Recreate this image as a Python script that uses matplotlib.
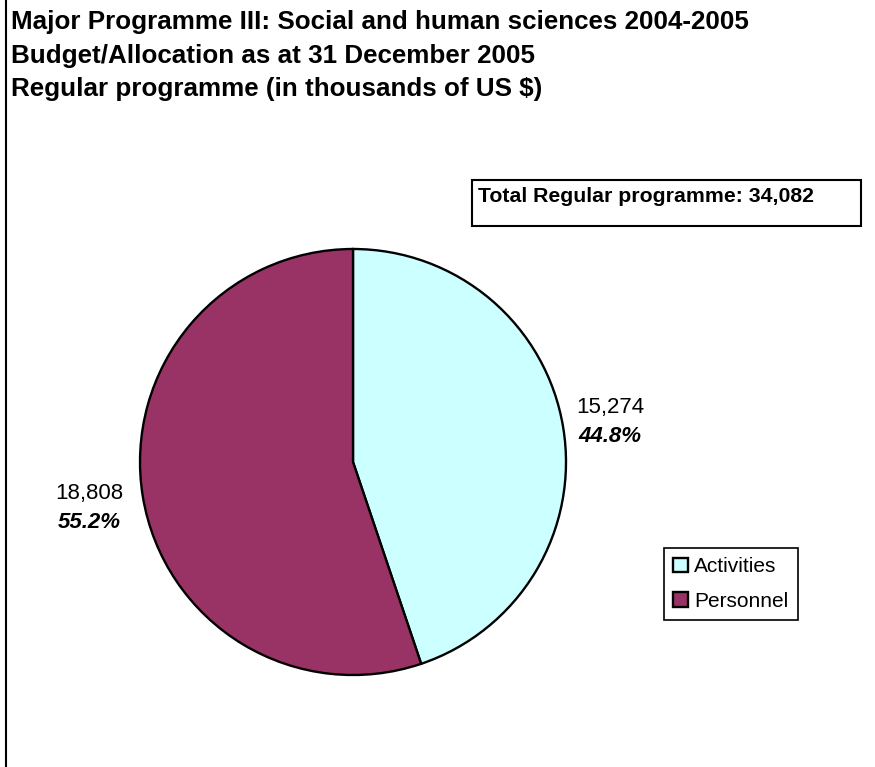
import numpy as np
import matplotlib
matplotlib.use("Agg")
import matplotlib.pyplot as plt
from matplotlib.patches import Rectangle
from matplotlib.lines import Line2D

plt.rcParams['font.family'] = ['Liberation Sans', 'DejaVu Sans']

# data
categories = ['Activities', 'Personnel']
values = [15274, 18808]
shares = [44.8, 55.2]
colors = ['#CCFFFF', '#993366']
title_lines = ['Major Programme III: Social and human sciences 2004-2005',
               'Budget/Allocation as at 31 December 2005',
               'Regular programme (in thousands of US $)']
total_label = 'Total Regular programme: 34,082'

W, H = 875, 767
fig = plt.figure(figsize=(W / 100, H / 100), dpi=100)
fig.patch.set_facecolor('white')

def fx(px):
    return px / W

def fy(py):
    return 1 - py / H

# left border of the chart area
fig.add_artist(Line2D([fx(6), fx(6)], [0, 1], transform=fig.transFigure,
                      color='black', lw=1.5))

# title, three lines
for i, line in enumerate(title_lines):
    fig.text(fx(11), fy(29 + 33.5 * i), line, fontsize=18.7, weight='bold',
             ha='left', va='baseline')

# total box
fig.add_artist(Rectangle((fx(472), fy(226)), fx(861) - fx(472), fy(180) - fy(226),
                         transform=fig.transFigure, facecolor='white',
                         edgecolor='black', lw=1.5))
fig.text(fx(478), fy(202), total_label, fontsize=15.3, weight='bold',
         ha='left', va='baseline')

# pie
cx, cy, r = 353, 462, 213
ax = fig.add_axes([fx(cx - r), fy(cy + r), 2 * r / W, 2 * r / H])
wedges, _ = ax.pie(values, colors=colors, startangle=90, counterclock=False,
                   radius=1, wedgeprops=dict(edgecolor='black', linewidth=1.7))
ax.set_xlim(-1, 1)
ax.set_ylim(-1, 1)
ax.set_aspect('equal')

# data labels: value on top, bold italic share below
label_dist = [1.224, 1.255]
for w, v, s, d in zip(wedges, values, shares, label_dist):
    ang = np.deg2rad((w.theta1 + w.theta2) / 2)
    x, y = d * np.cos(ang), d * np.sin(ang)
    ax.annotate(f'{v:,}', (x, y), xytext=(0, 6.5), textcoords='offset pixels',
                ha='center', va='baseline', fontsize=16, annotation_clip=False)
    ax.annotate(f'{s:.1f}%', (x, y), xytext=(0, -22.5), textcoords='offset pixels',
                ha='center', va='baseline', fontsize=16, weight='bold',
                style='italic', annotation_clip=False)

leg = fig.legend(wedges, categories, loc='upper left',
                 bbox_to_anchor=(fx(664), fy(548)), fontsize=15,
                 frameon=True, fancybox=False, framealpha=1, edgecolor='black',
                 handlelength=0.7, handleheight=0.7, handletextpad=0.3,
                 borderpad=0.45, labelspacing=0.75, borderaxespad=0)
leg.get_frame().set_linewidth(1.2)

fig.savefig('out.png', dpi=100, facecolor='white')
